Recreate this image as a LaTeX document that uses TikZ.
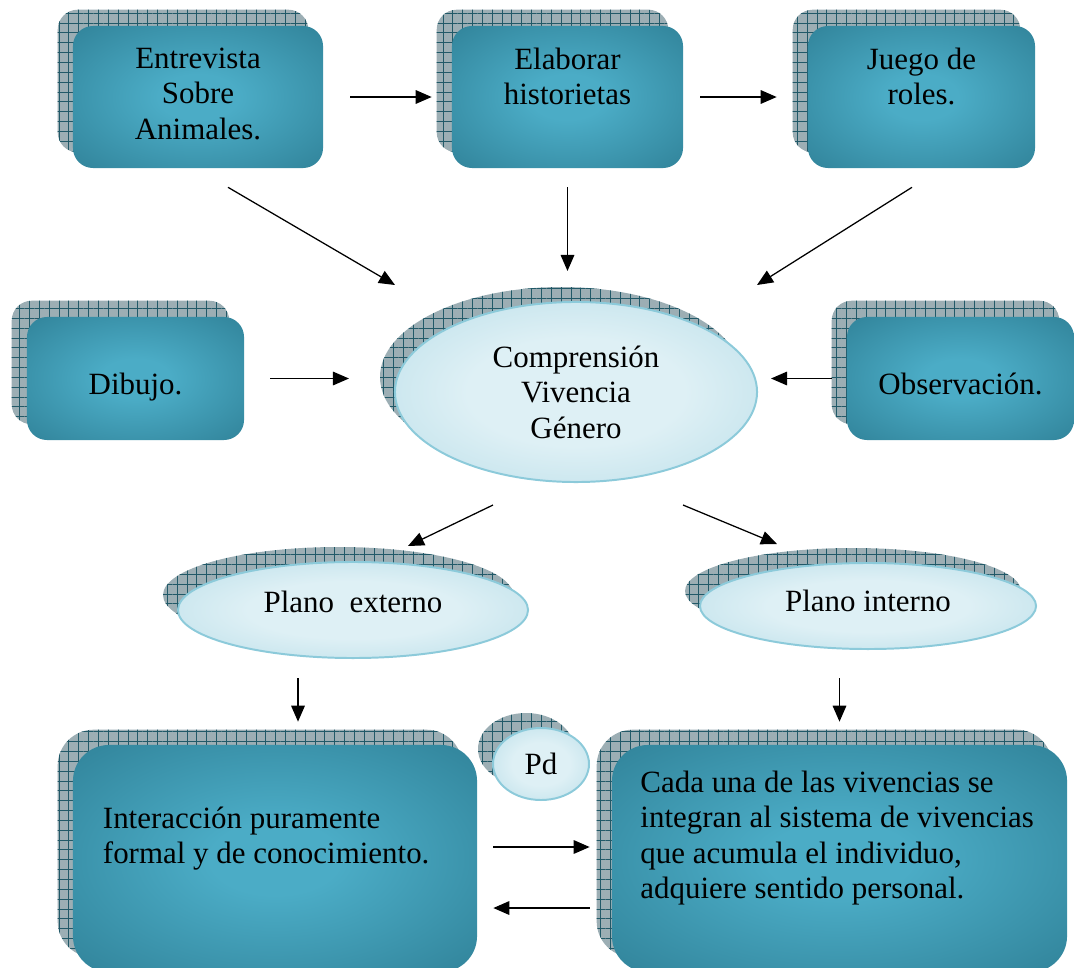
\documentclass[tikz,border=0pt]{standalone}
\usepackage{fontspec}
\setmainfont{Liberation Serif}
\usetikzlibrary{arrows.meta,patterns.meta,backgrounds,shapes.geometric}

\definecolor{panelin}{RGB}{75,172,198}
\definecolor{panelout}{RGB}{45,125,147}
\definecolor{bubblein}{RGB}{222,240,245}
\definecolor{bubbleout}{RGB}{163,211,225}
\definecolor{bubbleline}{RGB}{140,202,218}
\definecolor{shadowgray}{RGB}{156,174,180}
\definecolor{gridteal}{RGB}{33,89,104}

\pgfdeclareradialshading{panelshade}{\pgfpoint{0bp}{0bp}}{color(0bp)=(panelin); color(8bp)=(panelin); color(40bp)=(panelout); color(50bp)=(panelout)}
\pgfdeclareradialshading{bubbleshade}{\pgfpoint{0bp}{0bp}}{color(0bp)=(bubblein); color(15bp)=(bubblein); color(50bp)=(bubbleout)}

\newcommand{\toptxt}[2]{\parbox[c][#1][t]{5cm}{\centering #2}}

\begin{document}
\begin{tikzpicture}[x=0.025cm, y=-0.025cm,
  every node/.style={font=\fontsize{22}{25.2}\selectfont},
  panel/.style={rectangle, rounded corners=0.5cm, inner sep=0pt, shade, shading=panelshade},
  bubble/.style={ellipse, draw=bubbleline, line width=1.4pt, inner sep=0pt, shade, shading=bubbleshade},
  backdrop/.style={fill=shadowgray, postaction={pattern color=gridteal, pattern={Hatch[angle=0,distance=7pt,line width=0.6pt]}}},
  arr/.style={-{Triangle[length=0.4cm,width=0.34cm]}, line width=0.9pt}]

  \useasboundingbox (0,0) rectangle (1074,968);

  % Actividades
  \node[panel, minimum width=6.25cm, minimum height=3.55cm] (entrevista) at (198,97) {\toptxt{2.45cm}{Entrevista\\Sobre\\Animales.}};
  \node[panel, minimum width=5.775cm, minimum height=3.55cm] (elaborar) at (567.5,97) {\toptxt{2.45cm}{Elaborar\\historietas}};
  \node[panel, minimum width=5.675cm, minimum height=3.55cm] (juego) at (921.5,97) {\toptxt{2.45cm}{Juego de\\roles.}};
  \node[panel, minimum width=5.425cm, minimum height=3.075cm, text height=1cm, text depth=0.2cm] (dibujo) at (135.5,378.5) {Dibujo.};
  \node[panel, minimum width=5.675cm, minimum height=3.075cm, text height=1cm, text depth=0.2cm] (observ) at (960.5,378.5) {Observación.};

  % Centro y planos
  \node[bubble, minimum width=9.05cm, minimum height=4.5cm, align=center] (compr) at (576,392) {Comprensión\\Vivencia\\Género};
  \node[bubble, minimum width=8.75cm, minimum height=2.4cm, text height=0.53cm, text depth=0.425cm] (pext) at (353,610) {Plano~~externo\hspace{0.95cm}};
  \node[bubble, minimum width=8.4cm, minimum height=2.15cm, text height=0.53cm, text depth=0.275cm] (pint) at (868,606) {Plano interno\hspace{1.05cm}};
  \node[bubble, minimum width=2.4cm, minimum height=1.8cm] (pd) at (541,764) {Pd};

  % Resultados
  \node[panel, rounded corners=0.9cm, minimum width=10.1cm, minimum height=5.675cm] (interac) at (275,858.5)
    {\parbox[c][2.575cm][t]{8.6cm}{\raggedright Interacción puramente\\formal y de conocimiento.}};
  \node[panel, rounded corners=0.9cm, minimum width=11.375cm, minimum height=5.675cm] (cada) at (839.5,858.5)
    {\parbox[c][4.375cm][t]{10.5cm}{\raggedright\leftskip=0.275cm Cada una de las vivencias se\\integran al sistema de vivencias\\que acumula el individuo,\\adquiere sentido personal.}};

  % Sombras cuadriculadas
  \begin{scope}[on background layer]
    \foreach \n in {entrevista,elaborar,juego,dibujo,observ}
      \path[backdrop, rounded corners=0.5cm] ([shift={(-15,-16)}]\n.north west) rectangle ([shift={(-15,-16)}]\n.south east);
    \foreach \n in {interac,cada}
      \path[backdrop, rounded corners=0.9cm] ([shift={(-15,-15)}]\n.north west) rectangle ([shift={(-15,-15)}]\n.south east);
    \foreach \n/\rx/\ry in {compr/181/90, pext/175/48, pint/168/43, pd/48/36}
      \path[backdrop] ([shift={(-15,-15)}]\n.center) ellipse [x radius=\rx, y radius=\ry];
  \end{scope}

  % Flechas
  \draw[arr, shorten <=0.675cm, shorten >=0.5cm] (entrevista.east) -- (elaborar.west);
  \draw[arr, shorten <=0.425cm, shorten >=0.775cm] (elaborar.east) -- (juego.west);
  \draw[arr] ([shift={(30,19)}]entrevista.south) -- ([shift={(-181,-107)}]compr.center);
  \draw[arr, shorten <=0.475cm, shorten >=0.75cm] (elaborar.south) -- (elaborar.south |- compr.north);
  \draw[arr] ([shift={(-9.5,19)}]juego.south) -- ([shift={(181,-107)}]compr.center);
  \draw[arr, shorten <=0.65cm, shorten >=1.125cm] (dibujo.east) -- (dibujo.east -| compr.west);
  \draw[arr, shorten <=0.375cm, shorten >=0.325cm] (observ.west) -- (observ.west -| compr.east);
  \draw[arr] ([shift={(-83,22)}]compr.south) -- ([shift={(55,-15)}]pext.north);
  \draw[arr] ([shift={(107,22)}]compr.south) -- ([shift={(-91,-18)}]pint.north);
  \coordinate (ptop) at ([xshift=0.575cm]interac.north);
  \draw[arr, shorten <=0.475cm, shorten >=0.575cm] (pext.south -| ptop) -- (ptop);
  \draw[arr, shorten <=0.7cm, shorten >=0.575cm] (pint.south -| cada.north) -- (cada.north);
  \draw[arr, shorten <=0.4cm, shorten >=0.55cm] ([yshift=0.2875cm]interac.east) -- ([yshift=0.2875cm]cada.west);
  \draw[arr, shorten <=0.55cm, shorten >=0.4cm] ([yshift=-1.2375cm]cada.west) -- ([yshift=-1.2375cm]interac.east);

\end{tikzpicture}
\end{document}
